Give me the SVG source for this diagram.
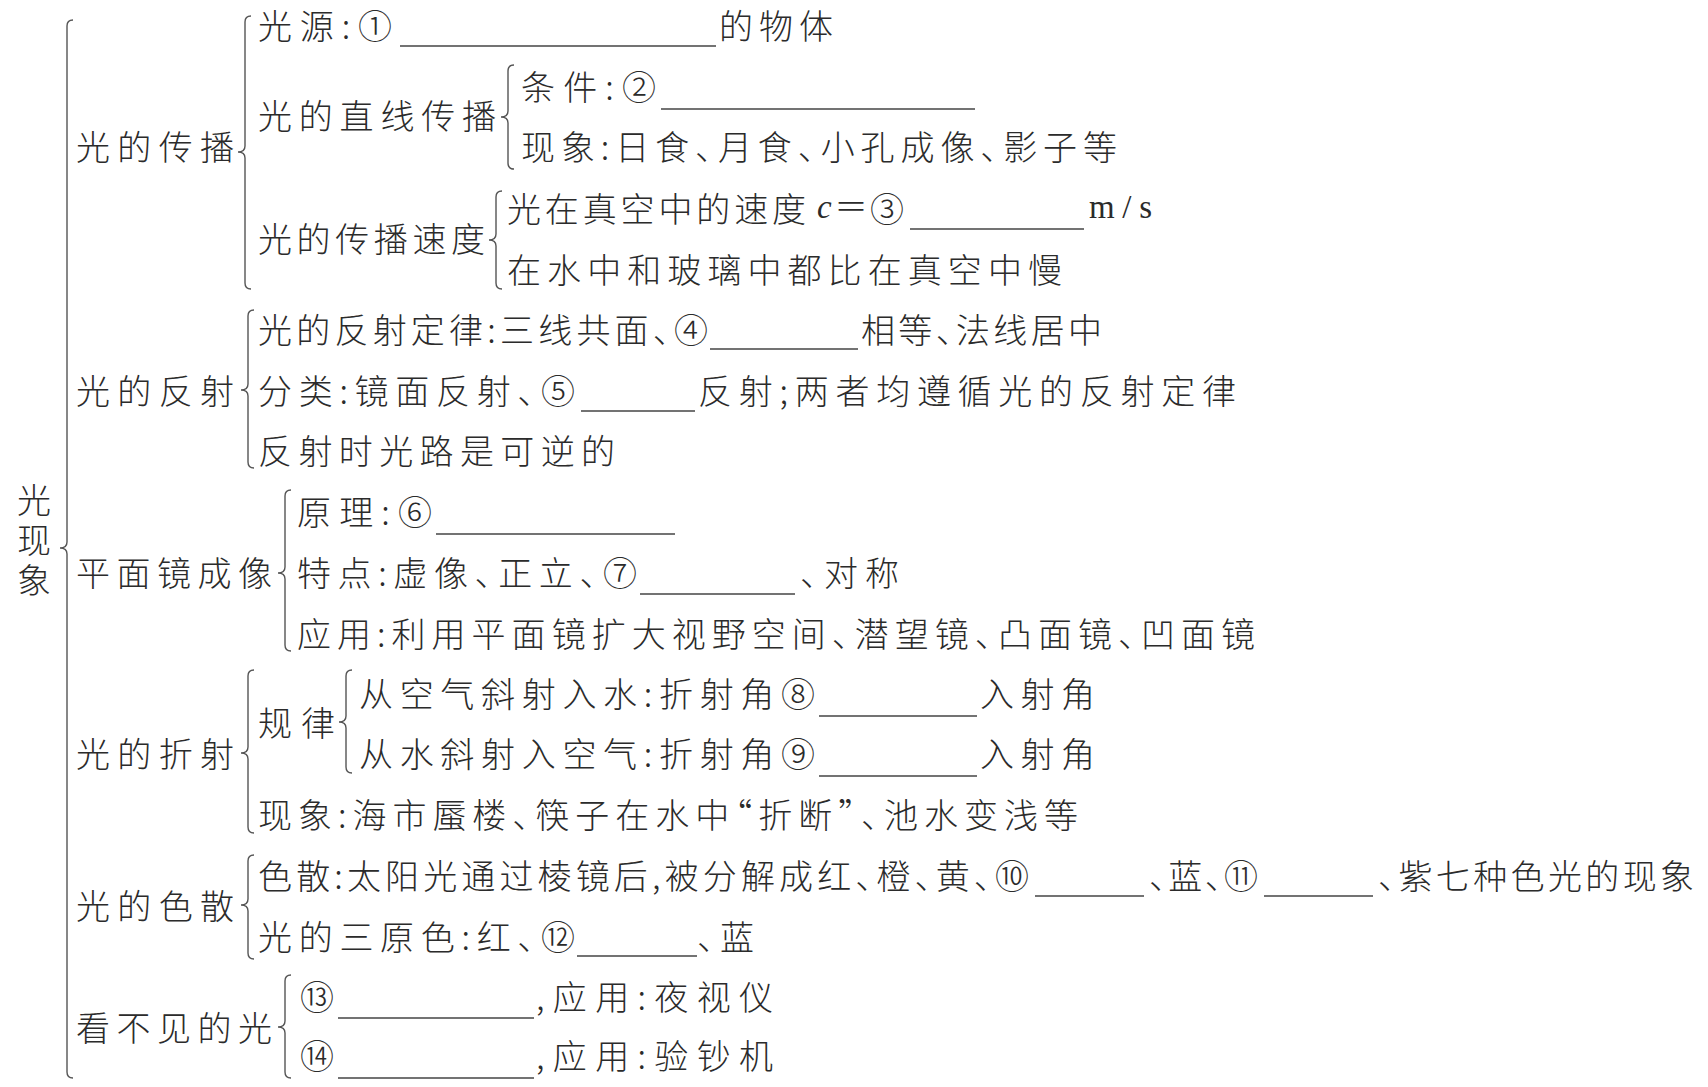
<svg xmlns="http://www.w3.org/2000/svg" width="1708" height="1087" viewBox="0 0 1708 1087">
<style>
.t{font-family:"Noto Sans CJK SC","Noto Sans",sans-serif;font-size:34px;font-weight:300;fill:#2b2b2b;dominant-baseline:central;font-feature-settings:"halt"}
.s{font-family:"Liberation Serif",serif;font-size:33px;fill:#2b2b2b;dominant-baseline:central}
.u{stroke:#444;stroke-width:1.5}
.b{fill:none;stroke:#555;stroke-width:1.4}
</style>
<rect width="1708" height="1087" fill="#fff"/>
<g id="connectors">
<path class="b" d="M73,20 Q67,20 67,26 L67,542 Q67,548 60,548 Q67,548 67,554 L67,1072 Q67,1078 73,1078"/>
<path class="b" d="M251,16 Q245,16 245,22 L245,146 Q245,152 238,152 Q245,152 245,158 L245,283 Q245,289 251,289"/>
<path class="b" d="M514,65 Q508,65 508,71 L508,111 Q508,117 501,117 Q508,117 508,123 L508,163 Q508,169 514,169"/>
<path class="b" d="M502,191 Q496,191 496,197 L496,234 Q496,240 489,240 Q496,240 496,246 L496,283 Q496,289 502,289"/>
<path class="b" d="M254,310 Q248,310 248,316 L248,384 Q248,390 241,390 Q248,390 248,396 L248,462 Q248,468 254,468"/>
<path class="b" d="M291,490 Q285,490 285,496 L285,567 Q285,573 278,573 Q285,573 285,579 L285,645 Q285,651 291,651"/>
<path class="b" d="M254,670 Q248,670 248,676 L248,747 Q248,753 241,753 Q248,753 248,759 L248,827 Q248,833 254,833"/>
<path class="b" d="M352,670 Q346,670 346,676 L346,716 Q346,722 339,722 Q346,722 346,728 L346,767 Q346,773 352,773"/>
<path class="b" d="M254,855 Q248,855 248,861 L248,899 Q248,905 241,905 Q248,905 248,911 L248,953 Q248,959 254,959"/>
<path class="b" d="M291,975 Q285,975 285,981 L285,1021 Q285,1027 278,1027 Q285,1027 285,1033 L285,1072 Q285,1078 291,1078"/>
</g>
<g id="root">
<text class="t" x="34" y="483" style="writing-mode:vertical-rl" letter-spacing="6">光现象</text>
</g>
<g id="propagation">
<text class="t" x="76" y="145" textLength="158" lengthAdjust="spacing">光的传播</text>
</g>
<g id="light-source">
<text class="t" x="258" y="24" textLength="134" lengthAdjust="spacing">光源:①</text>
<line class="u" x1="400" y1="46" x2="716" y2="46"/>
<text class="t" x="719" y="24" textLength="114" lengthAdjust="spacing">的物体</text>
</g>
<g id="straight-line">
<text class="t" x="258" y="114" textLength="238" lengthAdjust="spacing">光的直线传播</text>
</g>
<g id="condition">
<text class="t" x="521" y="85" textLength="135" lengthAdjust="spacing">条件:②</text>
<line class="u" x1="661" y1="109" x2="975" y2="109"/>
</g>
<g id="phenomenon1">
<text class="t" x="521" y="145" textLength="596" lengthAdjust="spacing">现象:日食、月食、小孔成像、影子等</text>
</g>
<g id="speed">
<text class="t" x="258" y="237" textLength="227" lengthAdjust="spacing">光的传播速度</text>
</g>
<g id="speed-vacuum">
<text class="t" x="507" y="207" textLength="299" lengthAdjust="spacing">光在真空中的速度</text>
<text class="s" x="817" y="207" font-style="italic">c</text>
<text class="s" x="836" y="207" textLength="30" lengthAdjust="spacingAndGlyphs">=</text>
<text class="t" x="870" y="207">③</text>
<line class="u" x1="910" y1="229" x2="1084" y2="229"/>
<text class="s" x="1089" y="207" textLength="63" lengthAdjust="spacing">m/s</text>
</g>
<g id="speed-water">
<text class="t" x="507" y="268" textLength="555" lengthAdjust="spacing">在水中和玻璃中都比在真空中慢</text>
</g>
<g id="reflection">
<text class="t" x="76" y="389" textLength="158" lengthAdjust="spacing">光的反射</text>
</g>
<g id="reflection-law">
<text class="t" x="258" y="328" textLength="450" lengthAdjust="spacing">光的反射定律:三线共面、④</text>
<line class="u" x1="710" y1="349" x2="858" y2="349"/>
<text class="t" x="861" y="328" textLength="241" lengthAdjust="spacing">相等、法线居中</text>
</g>
<g id="reflection-types">
<text class="t" x="258" y="389" textLength="317" lengthAdjust="spacing">分类:镜面反射、⑤</text>
<line class="u" x1="581" y1="411" x2="695" y2="411"/>
<text class="t" x="698" y="389" textLength="538" lengthAdjust="spacing">反射;两者均遵循光的反射定律</text>
</g>
<g id="reversible">
<text class="t" x="258" y="449" textLength="357" lengthAdjust="spacing">反射时光路是可逆的</text>
</g>
<g id="plane-mirror">
<text class="t" x="76" y="571" textLength="196" lengthAdjust="spacing">平面镜成像</text>
</g>
<g id="principle">
<text class="t" x="297" y="510" textLength="135" lengthAdjust="spacing">原理:⑥</text>
<line class="u" x1="436" y1="534" x2="675" y2="534"/>
</g>
<g id="features">
<text class="t" x="297" y="571" textLength="340" lengthAdjust="spacing">特点:虚像、正立、⑦</text>
<line class="u" x1="640" y1="594" x2="795" y2="594"/>
<text class="t" x="800" y="571" textLength="99" lengthAdjust="spacing">、对称</text>
</g>
<g id="applications">
<text class="t" x="297" y="632" textLength="958" lengthAdjust="spacing">应用:利用平面镜扩大视野空间、潜望镜、凸面镜、凹面镜</text>
</g>
<g id="refraction">
<text class="t" x="76" y="752" textLength="158" lengthAdjust="spacing">光的折射</text>
</g>
<g id="rules">
<text class="t" x="258" y="721" textLength="77" lengthAdjust="spacing">规律</text>
</g>
<g id="air-to-water">
<text class="t" x="359" y="692" textLength="456" lengthAdjust="spacing">从空气斜射入水:折射角⑧</text>
<line class="u" x1="819" y1="716" x2="977" y2="716"/>
<text class="t" x="980" y="692" textLength="115" lengthAdjust="spacing">入射角</text>
</g>
<g id="water-to-air">
<text class="t" x="359" y="752" textLength="456" lengthAdjust="spacing">从水斜射入空气:折射角⑨</text>
<line class="u" x1="819" y1="776" x2="977" y2="776"/>
<text class="t" x="980" y="752" textLength="115" lengthAdjust="spacing">入射角</text>
</g>
<g id="phenomenon2">
<text class="t" x="258" y="813" textLength="820" lengthAdjust="spacing">现象:海市蜃楼、筷子在水中“折断”、池水变浅等</text>
</g>
<g id="dispersion">
<text class="t" x="76" y="904" textLength="158" lengthAdjust="spacing">光的色散</text>
</g>
<g id="dispersion-def">
<text class="t" x="258" y="874" textLength="771" lengthAdjust="spacing">色散:太阳光通过棱镜后,被分解成红、橙、黄、⑩</text>
<line class="u" x1="1035" y1="896" x2="1144" y2="896"/>
<text class="t" x="1149" y="874" textLength="109" lengthAdjust="spacing">、蓝、⑪</text>
<line class="u" x1="1264" y1="896" x2="1373" y2="896"/>
<text class="t" x="1378" y="874" textLength="316" lengthAdjust="spacing">、紫七种色光的现象</text>
</g>
<g id="primary-colors">
<text class="t" x="258" y="935" textLength="317" lengthAdjust="spacing">光的三原色:红、⑫</text>
<line class="u" x1="577" y1="956" x2="697" y2="956"/>
<text class="t" x="697" y="935" textLength="57" lengthAdjust="spacing">、蓝</text>
</g>
<g id="invisible">
<text class="t" x="76" y="1026" textLength="196" lengthAdjust="spacing">看不见的光</text>
</g>
<g id="infrared">
<text class="t" x="300" y="995">⑬</text>
<line class="u" x1="338" y1="1018" x2="534" y2="1018"/>
<text class="t" x="536" y="995" textLength="237" lengthAdjust="spacing">,应用:夜视仪</text>
</g>
<g id="ultraviolet">
<text class="t" x="300" y="1054">⑭</text>
<line class="u" x1="338" y1="1078" x2="534" y2="1078"/>
<text class="t" x="536" y="1054" textLength="237" lengthAdjust="spacing">,应用:验钞机</text>
</g>
</svg>
